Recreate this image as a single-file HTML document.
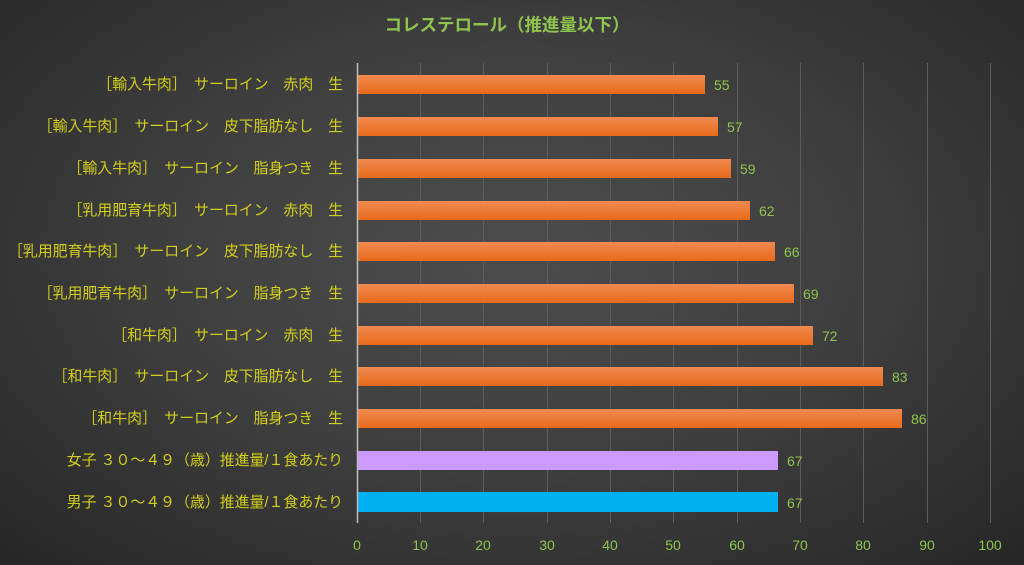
<!DOCTYPE html>
<html><head><meta charset="utf-8"><style>
html,body{margin:0;padding:0;width:1024px;height:565px;overflow:hidden}
body{background:radial-gradient(ellipse at 50% 45%,#4d4d4d 0%,#3e3e3e 50%,#262626 100%);}
text{font-family:"Liberation Sans","Noto Sans CJK JP",sans-serif;}
</style></head><body>
<svg width="1024" height="565" xmlns="http://www.w3.org/2000/svg">
<defs>
<linearGradient id="og" x1="0" y1="0" x2="0" y2="1"><stop offset="0" stop-color="#f08a50"/><stop offset="1" stop-color="#e86a1a"/></linearGradient>
</defs>
<text x="507" y="31" text-anchor="middle" font-size="17.5" font-weight="bold" fill="#8fc44e">コレステロール（推進量以下）</text>
<g stroke="#5c5c5c" stroke-width="1">
<line x1="420.5" y1="63" x2="420.5" y2="523"/><line x1="483.5" y1="63" x2="483.5" y2="523"/>
<line x1="547.5" y1="63" x2="547.5" y2="523"/><line x1="610.5" y1="63" x2="610.5" y2="523"/>
<line x1="673.5" y1="63" x2="673.5" y2="523"/><line x1="737.5" y1="63" x2="737.5" y2="523"/>
<line x1="800.5" y1="63" x2="800.5" y2="523"/><line x1="863.5" y1="63" x2="863.5" y2="523"/>
<line x1="927.5" y1="63" x2="927.5" y2="523"/><line x1="990.5" y1="63" x2="990.5" y2="523"/>
</g>
<g font-size="14" fill="#8fc44e" text-anchor="middle">
<text x="357" y="550">0</text><text x="420" y="550">10</text><text x="483" y="550">20</text><text x="547" y="550">30</text><text x="610" y="550">40</text><text x="673" y="550">50</text><text x="737" y="550">60</text><text x="800" y="550">70</text><text x="863" y="550">80</text><text x="927" y="550">90</text><text x="990" y="550">100</text>
</g>
<g>
<rect x="357" y="75" width="348" height="19" fill="url(#og)"/>
<rect x="357" y="117" width="361" height="19" fill="url(#og)"/>
<rect x="357" y="159" width="374" height="19" fill="url(#og)"/>
<rect x="357" y="201" width="393" height="19" fill="url(#og)"/>
<rect x="357" y="242" width="418" height="19" fill="url(#og)"/>
<rect x="357" y="284" width="437" height="19" fill="url(#og)"/>
<rect x="357" y="326" width="456" height="19" fill="url(#og)"/>
<rect x="357" y="367" width="526" height="19" fill="url(#og)"/>
<rect x="357" y="409" width="545" height="19" fill="url(#og)"/>
<rect x="357" y="451" width="421" height="19" fill="#cc99ff"/>
<rect x="357" y="492" width="421" height="20" fill="#00b0f0"/>
</g>
<line x1="357.5" y1="63" x2="357.5" y2="523" stroke="#bfbfbf" stroke-width="1.5"/>
<g font-size="14" fill="#8fc44e">
<text x="714" y="90">55</text><text x="727" y="132">57</text><text x="740" y="174">59</text>
<text x="759" y="216">62</text><text x="784" y="257">66</text><text x="803" y="299">69</text>
<text x="822" y="341">72</text><text x="892" y="382">83</text><text x="911" y="424">86</text>
<text x="787" y="466">67</text><text x="787" y="508">67</text>
</g>
<g font-size="14.9" fill="#d2cf1c" text-anchor="end">
<text x="343" y="89">［輸入牛肉］　サーロイン　赤肉　生</text>
<text x="343" y="131">［輸入牛肉］　サーロイン　皮下脂肪なし　生</text>
<text x="343" y="173">［輸入牛肉］　サーロイン　脂身つき　生</text>
<text x="343" y="215">［乳用肥育牛肉］　サーロイン　赤肉　生</text>
<text x="343" y="256">［乳用肥育牛肉］　サーロイン　皮下脂肪なし　生</text>
<text x="343" y="298">［乳用肥育牛肉］　サーロイン　脂身つき　生</text>
<text x="343" y="340">［和牛肉］　サーロイン　赤肉　生</text>
<text x="343" y="381">［和牛肉］　サーロイン　皮下脂肪なし　生</text>
<text x="343" y="423">［和牛肉］　サーロイン　脂身つき　生</text>
<text x="343" y="465">女子 ３０～４９（歳）推進量/１食あたり</text>
<text x="343" y="507">男子 ３０～４９（歳）推進量/１食あたり</text>
</g>
</svg>
</body></html>
